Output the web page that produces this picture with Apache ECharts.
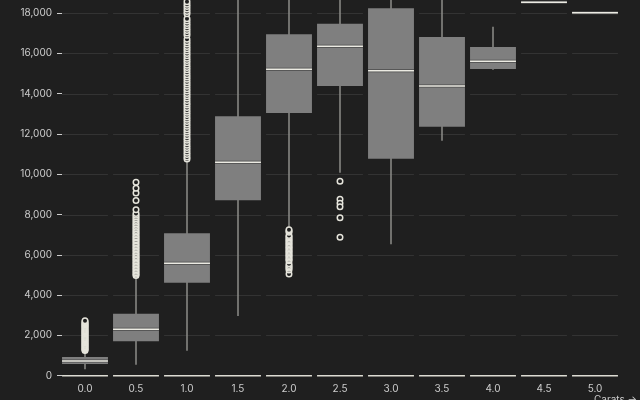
<!DOCTYPE html>
<html>
<head>
<meta charset="utf-8">
<script src="https://cdn.jsdelivr.net/npm/echarts@6/dist/echarts.min.js"></script>
<style>
html,body{margin:0;padding:0;background:#1f1f1f;}
#chart{width:640px;height:400px;}
</style>
</head>
<body>
<div id="chart"></div>
<script>
// Carat bins
const categories = ['0.0','0.5','1.0','1.5','2.0','2.5','3.0','3.5','4.0','4.5','5.0'];
// Box statistics (price, $)
const whiskerLow  = [317, 546, 1241, 2963, 7231, 10075, 6521, 11663, 15187, 18531, 18018];
const quartile1   = [581, 1707, 4616, 8705, 13038, 14378, 10770, 12358, 15222, 18531, 18018];
const medians     = [730, 2302, 5578, 10591, 15207, 16348, 15137, 14378, 15604, 18531, 18018];
const quartile3   = [928, 3077, 7067, 12874, 16943, 17470, 18234, 16810, 16314, 18531, 18018];
const whiskerHigh = [1240, 4963, 10620, 18800, 18823, 18800, 18710, 18700, 17321, 18531, 18018];
// Outliers per bin
const outliers00 = [1250,1290,1330,1380,1420,1460,1510,1550,1600,1640,1690,1730,1770,1820,1860,1910,1950,2000,2040,2080,2130,2170,2220,2260,2310,2350,2400,2440,2490,2530,2580,2620,2680,2730];
const outliers05 = [4970,5040,5110,5190,5260,5330,5410,5480,5550,5630,5700,5780,5850,5920,6000,6070,6150,6220,6300,6370,6450,6520,6600,6680,6750,6830,6900,6980,7060,7130,7210,7290,7370,7450,7530,7610,7700,7790,7880,7960,8050,8240,8700,9070,9300,9600];
const outliers10 = [10750,10860,10980,11090,11210,11330,11440,11560,11680,11790,11910,12030,12140,12260,12380,12490,12610,12730,12840,12960,13080,13190,13310,13430,13540,13660,13780,13890,14010,14130,14240,14360,14480,14590,14710,14830,14940,15060,15180,15290,15410,15530,15640,15760,15880,15990,16110,16230,16340,16460,16580,16700,16900,17010,17130,17250,17370,17480,17600,17720,17960,18080,18200,18320,18440,18560,18680,18800];
const outliers15 = [];
const outliers20 = [5050,5240,5330,5400,5470,5550,5700,5760,5830,5900,5960,6030,6100,6160,6230,6300,6360,6430,6500,6560,6630,6700,6760,6830,6900,6960,7120,7180,7240];
const outliers25 = [9650,8760,8560,8380,7840,6870];
const outliers30 = [];
const outliers35 = [];
const outliers40 = [];
const outliers45 = [];
const outliers50 = [];
// Y tick values
const yTicks = [0,2000,4000,6000,8000,10000,12000,14000,16000,18000];

const allOutliers = [outliers00,outliers05,outliers10,outliers15,outliers20,outliers25,outliers30,outliers35,outliers40,outliers45,outliers50];

const BG = '#1f1f1f';
const TEXT = '#cdcdcd';
const FONT = 'Inter';

const boxData = categories.map((c,i)=>[i, whiskerLow[i], quartile1[i], medians[i], quartile3[i], whiskerHigh[i]]);
const outlierData = [];
allOutliers.forEach((arr,i)=>arr.forEach(v=>outlierData.push([i, v])));
const bandData = categories.map((c,i)=>[i, 0]);

const chart = echarts.init(document.getElementById('chart'), null, {renderer:'canvas'});
chart.setOption({
  backgroundColor: BG,
  animation: false,
  grid: {left: 59.5, right: 19.5, top: 0, bottom: 24.3, containLabel: false},
  xAxis: {
    type: 'category',
    data: categories,
    boundaryGap: true,
    axisLine: {show: false},
    axisTick: {show: false},
    splitLine: {show: false},
    axisLabel: {color: TEXT, fontSize: 10, fontFamily: FONT, margin: 8}
  },
  yAxis: {
    type: 'value',
    min: 0, max: 18646, interval: 2000,
    offset: -2.5,
    axisLine: {show: false},
    axisTick: {show: true, length: 5, customValues: yTicks, lineStyle: {color: TEXT, width: 1}},
    splitLine: {show: false},
    axisLabel: {color: TEXT, fontSize: 10, fontFamily: FONT, margin: 10, customValues: yTicks,
      formatter: v => v.toLocaleString('en-US')}
  },
  graphic: [{
    type: 'text', left: 594, top: 395, z: 100,
    style: {text: 'Carats →', fill: TEXT, font: '10px Inter'}
  }],
  series: [
    {
      type: 'custom', z: 1, silent: true,
      data: bandData,
      encode: {x: 0, y: 1},
      renderItem: function(params, api){
        const i = api.value(0);
        const bw = api.size([1,0])[0] * 0.9;
        const cx = api.coord([i, 0])[0];
        const children = [];
        yTicks.forEach(t=>{
          const y = api.coord([i, t])[1];
          if (t === 0) {
            children.push({type:'line', shape:{x1:cx-bw/2, y1:y, x2:cx+bw/2, y2:y}, style:{stroke:'#dddcd3', lineWidth:1.5}});
          } else {
            children.push({type:'line', shape:{x1:cx-bw/2, y1:Math.round(y)+0.5, x2:cx+bw/2, y2:Math.round(y)+0.5}, style:{stroke:'#333333', lineWidth:1}});
          }
        });
        return {type:'group', children};
      }
    },
    {
      type: 'custom', z: 2, silent: true,
      data: boxData,
      encode: {x: 0, y: [1,2,3,4,5]},
      renderItem: function(params, api){
        const i = api.value(0);
        const lo = api.coord([i, api.value(1)]);
        const a = api.coord([i, api.value(2)]);
        const m = api.coord([i, api.value(3)]);
        const b = api.coord([i, api.value(4)]);
        const hi = api.coord([i, api.value(5)]);
        const bw = api.size([1,0])[0] * 0.9;
        const x = lo[0];
        return {type:'group', children:[
          {type:'line', shape:{x1:x, y1:lo[1], x2:x, y2:hi[1]}, style:{stroke:'#8e8e8a', lineWidth:1.5}},
          {type:'rect', shape:{x:x-bw/2, y:b[1], width:bw, height:a[1]-b[1]}, style:{fill:'#7f7f7f'}},
          {type:'line', shape:{x1:x-bw/2, y1:m[1], x2:x+bw/2, y2:m[1]}, style:{stroke:'#4a4a4a', lineWidth:3}},
          {type:'line', shape:{x1:x-bw/2, y1:m[1], x2:x+bw/2, y2:m[1]}, style:{stroke:'#ecebe3', lineWidth:1.5}}
        ]};
      }
    },
    {
      type: 'scatter', z: 3, silent: true,
      data: outlierData,
      symbol: 'circle',
      symbolSize: 5.5,
      itemStyle: {color: BG, borderColor: '#e6e5dc', borderWidth: 1.5, opacity: 1}
    }
  ]
});
</script>
</body>
</html>
